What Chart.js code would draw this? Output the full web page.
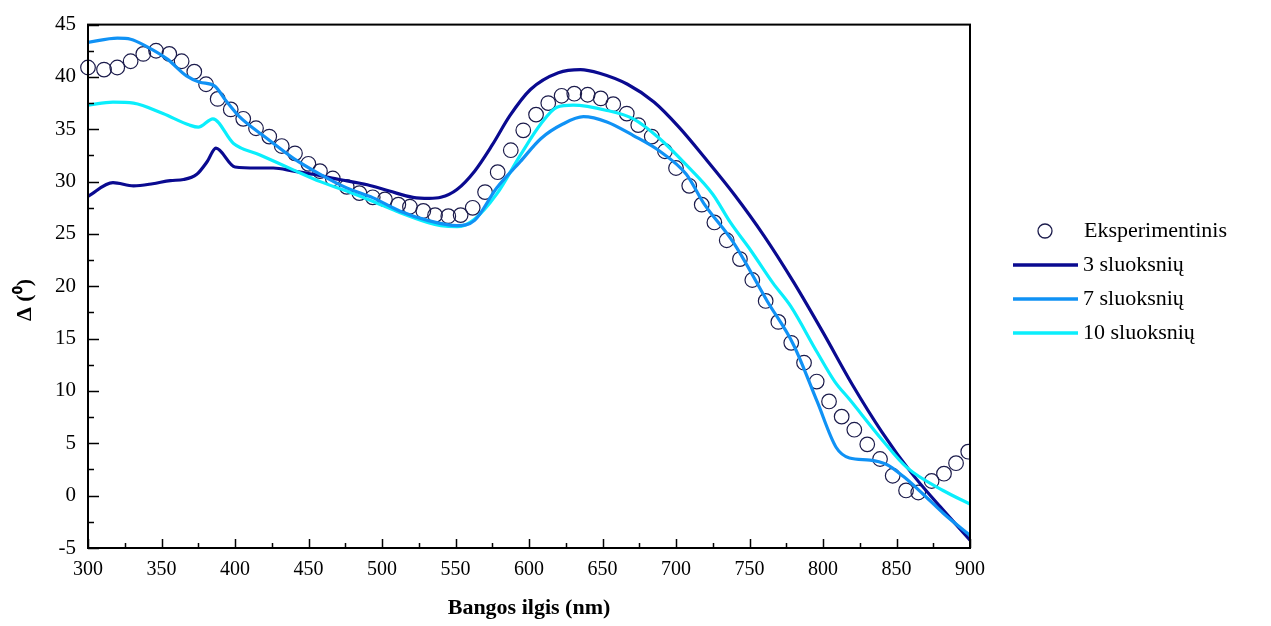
<!DOCTYPE html>
<html>
<head>
<meta charset="utf-8">
<script src="https://cdn.jsdelivr.net/npm/chart.js@4/dist/chart.umd.min.js"></script>
<style>
  html, body { margin: 0; padding: 0; background: #fff; }
  #wrap { width: 1271px; height: 626px; }
</style>
</head>
<body>
<div id="wrap"><canvas id="chart" width="1271" height="626"></canvas></div>
<script>
// Experimental points (wavelength nm, delta deg)
const expWave = [300, 310.9, 319.9, 329.0, 337.6, 346.3, 355.3, 363.7, 372.3, 380.3,
    388.2, 397.1, 405.6, 414.3, 423.3, 431.8, 440.8, 449.9, 457.8, 466.5,
    476.0, 484.6, 493.7, 502.0, 511.1, 519.0, 528.1, 536.1, 545.1, 553.5,
    561.7, 570.1, 578.7, 587.6, 596.1, 604.8, 613.1, 622.2, 630.8, 639.9,
    648.8, 657.3, 666.5, 674.3, 683.5, 692.5, 700.0, 709.0, 717.5, 726.1,
    734.5, 743.5, 751.9, 761.0, 769.6, 778.4, 787.1, 795.7, 804.1, 812.7,
    821.3, 830.1, 838.8, 847.4, 856.5, 864.8, 873.9, 882.3, 890.5, 898.8];
const expDelta = [40.9, 40.7, 40.9, 41.5, 42.2, 42.5, 42.2, 41.5, 40.5, 39.3,
    37.9, 36.9, 36.0, 35.1, 34.3, 33.4, 32.7, 31.7, 31.0, 30.3,
    29.5, 28.9, 28.5, 28.3, 27.8, 27.6, 27.2, 26.8, 26.7, 26.8,
    27.5, 29.0, 30.9, 33.0, 34.9, 36.4, 37.5, 38.2, 38.4, 38.3,
    37.95, 37.4, 36.5, 35.4, 34.3, 32.9, 31.3, 29.6, 27.8, 26.1,
    24.4, 22.6, 20.6, 18.6, 16.6, 14.6, 12.7, 10.9, 9.0, 7.55,
    6.3, 4.9, 3.5, 1.9, 0.5, 0.3, 1.4, 2.1, 3.1, 4.2];

// 3 layer model
const wave3 = [300, 317, 331, 344, 356, 365, 374, 381, 387, 400, 415, 426, 440, 453, 471,
    490, 505, 521, 532, 540, 551, 563, 575, 587, 601, 620, 635, 648, 667, 685, 702,
    720, 740, 760, 780, 800, 820, 840, 860, 880, 900];
const delta3 = [28.6, 29.9, 29.6, 29.8, 30.1, 30.2, 30.7, 31.9, 33.2, 31.4, 31.3, 31.3, 31.0, 30.7, 30.2,
    29.7, 29.1, 28.5, 28.4, 28.5, 29.25, 31.0, 33.5, 36.3, 38.8, 40.4, 40.7, 40.35, 39.3, 37.6, 35.2,
    32.2, 28.7, 24.8, 20.4, 15.6, 10.6, 6.1, 2.2, -1.1, -4.25];

// 7 layer model
const wave7 = [300, 320, 329, 340, 354, 367, 376, 386, 394, 403, 422, 440, 458, 476, 494,
    512, 531, 551, 563, 578, 594, 608, 623, 637, 653, 671, 689, 707, 719, 739,
    762, 780, 796, 809, 818, 832, 843, 855, 868, 882, 900];
const delta7 = [43.3, 43.7, 43.6, 42.9, 41.7, 40.1, 39.5, 39.15, 37.7, 36.2, 34.1, 32.2, 30.7, 29.4, 28.45,
    27.2, 26.3, 25.8, 26.3, 29.4, 31.9, 34.1, 35.5, 36.2, 35.7, 34.4, 32.9, 30.7, 27.9, 24.2,
    18.6, 14.4, 9.0, 4.6, 3.6, 3.4, 3.0, 1.8, 0.16, -1.7, -3.8];

// 10 layer model
const wave10 = [300, 317, 331, 351, 369, 375, 385, 399, 417, 440, 458, 476, 494, 512, 531,
    540, 551, 562, 578, 594, 608, 619, 630, 653, 671, 689, 707, 725, 737, 751, 766, 778,
    796, 808, 818, 841, 857, 882, 900];
const delta10 = [37.3, 37.6, 37.5, 36.5, 35.4, 35.2, 36.0, 33.65, 32.55, 31.1, 30.0, 29.1, 28.1, 27.05, 26.1,
    25.8, 25.7, 26.3, 28.8, 32.5, 35.5, 37.1, 37.3, 36.8, 36.0, 34.1, 31.6, 28.8, 26.1, 23.4, 20.3, 18.1,
    13.7, 10.9, 9.2, 5.2, 2.7, 0.47, -0.8];

const seriesLabels = ['Eksperimentinis', '3 sluoksnių', '7 sluoksnių', '10 sluoksnių'];
const xTicks = [300, 350, 400, 450, 500, 550, 600, 650, 700, 750, 800, 850, 900];
const yTicks = [-5, 0, 5, 10, 15, 20, 25, 30, 35, 40, 45];
const yTitle = 'Δ (⁰)';

const colExp = '#1c1c4c';
const col3 = '#0a0a90';
const col7 = '#1092f5';
const col10 = '#0aeefc';
const fontFam = '"Liberation Serif", "Times New Roman", serif';

function pts(xs, ys) {
    return xs.map((x, i) => ({ x: x, y: ys[i] }));
}

// frame, inward ticks, y title and legend
const decorPlugin = {
    id: 'decor',
    afterDraw(chart) {
        const ctx = chart.ctx;
        const a = chart.chartArea;
        const xs = chart.scales.x, ys = chart.scales.y;
        ctx.save();
        ctx.strokeStyle = '#000';
        ctx.lineWidth = 2;
        ctx.strokeRect(a.left, a.top, a.right - a.left, a.bottom - a.top);
        ctx.lineWidth = 1.5;
        ctx.beginPath();
        for (let v = 300; v <= 900; v += 25) {
            const px = Math.round(xs.getPixelForValue(v)) + 0.5;
            const len = (v % 50 === 0) ? 9 : 5;
            ctx.moveTo(px, a.bottom);
            ctx.lineTo(px, a.bottom - len);
        }
        for (let v = -5; v <= 45; v += 2.5) {
            const py = Math.round(ys.getPixelForValue(v)) + 0.5;
            const len = (v % 5 === 0) ? 11 : 6;
            ctx.moveTo(a.left, py);
            ctx.lineTo(a.left + len, py);
        }
        ctx.stroke();

        // y axis title
        ctx.save();
        ctx.translate(25, 300);
        ctx.rotate(-Math.PI / 2);
        ctx.font = 'bold 22px ' + fontFam;
        ctx.textAlign = 'center';
        ctx.textBaseline = 'middle';
        ctx.fillStyle = '#000';
        ctx.fillText(yTitle, 0, 0);
        ctx.restore();

        // legend
        const lx = 1013, ly = 231, step = 34;
        ctx.font = '22px ' + fontFam;
        ctx.textBaseline = 'middle';
        ctx.beginPath();
        ctx.arc(1045, ly, 7, 0, Math.PI * 2);
        ctx.fillStyle = '#fff';
        ctx.fill();
        ctx.strokeStyle = colExp;
        ctx.lineWidth = 1.3;
        ctx.stroke();
        ctx.fillStyle = '#000';
        ctx.fillText(seriesLabels[0], 1084, ly);
        const cols = [col3, col7, col10];
        for (let i = 0; i < 3; i++) {
            const y = ly + step * (i + 1);
            ctx.strokeStyle = cols[i];
            ctx.lineWidth = 3.5;
            ctx.beginPath();
            ctx.moveTo(lx, y);
            ctx.lineTo(1078, y);
            ctx.stroke();
            ctx.fillStyle = '#000';
            ctx.fillText(seriesLabels[i + 1], 1083, y);
        }
        ctx.restore();
    }
};

const lineStyle = { showLine: true, pointRadius: 0, borderWidth: 3.2, cubicInterpolationMode: 'monotone', fill: false };

new Chart(document.getElementById('chart'), {
    type: 'scatter',
    data: {
        datasets: [
            Object.assign({ label: seriesLabels[1], data: pts(wave3, delta3), borderColor: col3, order: 3 }, lineStyle),
            Object.assign({ label: seriesLabels[2], data: pts(wave7, delta7), borderColor: col7, order: 1 }, lineStyle),
            Object.assign({ label: seriesLabels[3], data: pts(wave10, delta10), borderColor: col10, order: 2 }, lineStyle),
            {
                label: seriesLabels[0],
                data: pts(expWave, expDelta),
                showLine: false,
                pointRadius: 7.3,
                pointBackgroundColor: 'rgba(255,255,255,0)',
                pointBorderColor: colExp,
                pointBorderWidth: 1.2,
                order: 10,
                clip: { left: 10, top: 0, right: 0, bottom: 0 }
            }
        ]
    },
    options: {
        responsive: false,
        animation: false,
        layout: { padding: { left: 0, right: 301, top: 18, bottom: 0 } },
        plugins: { legend: { display: false }, tooltip: { enabled: false } },
        scales: {
            x: {
                type: 'linear',
                min: 300, max: 900,
                afterBuildTicks: s => { s.ticks = xTicks.map(v => ({ value: v })); },
                afterFit: s => { s.height = 78; },
                grid: { display: false, drawTicks: false },
                border: { display: true, color: '#000', width: 2 },
                ticks: { color: '#000', padding: 10, maxRotation: 0, font: { family: fontFam, size: 20 } },
                title: { display: true, text: 'Bangos ilgis (nm)', color: '#000', padding: { top: 14 },
                    font: { family: fontFam, size: 22, weight: 'bold' } }
            },
            y: {
                type: 'linear',
                min: -5, max: 45,
                afterBuildTicks: s => { s.ticks = yTicks.map(v => ({ value: v })); },
                afterFit: s => { s.width = 88; },
                grid: { display: false, drawTicks: false },
                border: { display: true, color: '#000', width: 2 },
                ticks: { color: '#000', padding: 12, font: { family: fontFam, size: 21 } }
            }
        }
    },
    plugins: [decorPlugin]
});
</script>
</body>
</html>
